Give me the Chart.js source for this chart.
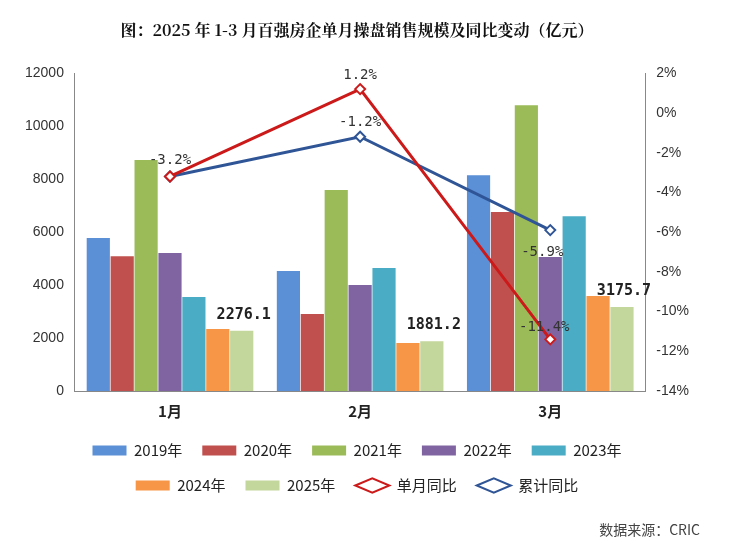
<!DOCTYPE html>
<html><head><meta charset="utf-8">
<script src="https://cdn.jsdelivr.net/npm/chart.js@4"></script>
<style>body{margin:0;background:#fff}#w{width:740px;height:549px;position:relative}
#src{position:absolute;right:40px;bottom:10px;font:14px "Noto Sans CJK SC";color:#444}</style>
</head><body><div id="w"><canvas id="c"></canvas><div id="src">数据来源：CRIC</div></div>
<script>
const months = ['1月', '2月', '3月'];
const years = ['2019年', '2020年', '2021年', '2022年', '2023年', '2024年', '2025年'];
const colors = ['#5b8fd6', '#c0504d', '#9bbb59', '#8064a2', '#4bacc6', '#f79646', '#c3d69b'];
const v2019 = [5780, 4530, 8150];
const v2020 = [5090, 2910, 6760];
const v2021 = [8720, 7590, 10790];
const v2022 = [5210, 4000, 5060];
const v2023 = [3550, 4640, 6600];
const v2024 = [2340, 1810, 3590];
const v2025 = [2276.1, 1881.2, 3175.7];
const monthYoY = [-3.2, 1.2, -11.4];
const cumYoY = [-3.2, -1.2, -5.9];

const barSets = [v2019, v2020, v2021, v2022, v2023, v2024, v2025].map((d, i) => ({
  type: 'bar', label: years[i], data: d, backgroundColor: colors[i], yAxisID: 'y',
  categoryPercentage: 0.88, barPercentage: 0.97, pointStyle: 'rect', order: 2
}));

const labelPlugin = {
  id: 'labels',
  afterDatasetsDraw(chart) {
    const ctx = chart.ctx;
    ctx.save();
    ctx.textAlign = 'center';
    ctx.font = 'bold 15px "DejaVu Sans Mono"';
    ctx.fillStyle = '#222';
    chart.getDatasetMeta(6).data.forEach((b, i) => {
      ctx.fillText(v2025[i].toFixed(1), b.x + 2, b.y - 16);
    });
    ctx.font = '14px "DejaVu Sans Mono"';
    ctx.fillStyle = '#333';
    const m = chart.getDatasetMeta(7).data, c = chart.getDatasetMeta(8).data;
    ctx.fillText(monthYoY[0] + '%', m[0].x, m[0].y - 16);
    ctx.fillText(monthYoY[1] + '%', m[1].x, m[1].y - 14);
    ctx.fillText(monthYoY[2] + '%', m[2].x - 6, m[2].y - 12);
    ctx.fillText(cumYoY[1] + '%', c[1].x, c[1].y - 14);
    ctx.fillText(cumYoY[2] + '%', c[2].x - 8, c[2].y + 22);
    ctx.restore();
  }
};

new Chart(document.getElementById('c'), {
  data: {
    labels: months,
    datasets: [...barSets,
      { type: 'line', label: '单月同比', data: monthYoY, borderColor: '#cc1a1a', backgroundColor: '#fff',
        borderWidth: 3, pointStyle: 'rectRot', pointRadius: 5, pointBorderWidth: 2, yAxisID: 'y1', order: 1 },
      { type: 'line', label: '累计同比', data: cumYoY, borderColor: '#2f5597', backgroundColor: '#fff',
        borderWidth: 3, pointStyle: 'rectRot', pointRadius: 5, pointBorderWidth: 2, yAxisID: 'y1', order: 1 }]
  },
  options: {
    responsive: true, maintainAspectRatio: false, animation: false,
    layout: { padding: { left: 22, right: 48, top: 12, bottom: 46 } },
    plugins: {
      title: { display: true, text: '图：2025 年 1-3 月百强房企单月操盘销售规模及同比变动（亿元）',
        font: { size: 16, weight: 'bold', family: '"Noto Serif CJK SC", "Noto Sans CJK SC"' }, color: '#111',
        padding: { top: 8, bottom: 34 } },
      legend: { position: 'bottom',
        labels: { sort: (a, b) => a.datasetIndex - b.datasetIndex, usePointStyle: true, pointStyleWidth: 34, boxHeight: 10,
        font: { size: 15, family: '"Noto Sans CJK SC"' }, color: '#222', padding: 20 } },
      tooltip: { enabled: false }
    },
    scales: {
      x: { grid: { display: false }, border: { color: '#888' },
        ticks: { font: { size: 15, weight: 'bold', family: '"Noto Sans CJK SC"' }, color: '#222' } },
      y: { min: 0, max: 12000, ticks: { stepSize: 2000, callback: v => v, font: { size: 14 }, color: '#333' },
        grid: { display: false }, border: { color: '#888' } },
      y1: { position: 'right', min: -14, max: 2, ticks: { stepSize: 2, callback: v => v + '%', font: { size: 14 }, color: '#333' },
        grid: { display: false }, border: { color: '#888' } }
    }
  },
  plugins: [labelPlugin]
});
</script></body></html>
